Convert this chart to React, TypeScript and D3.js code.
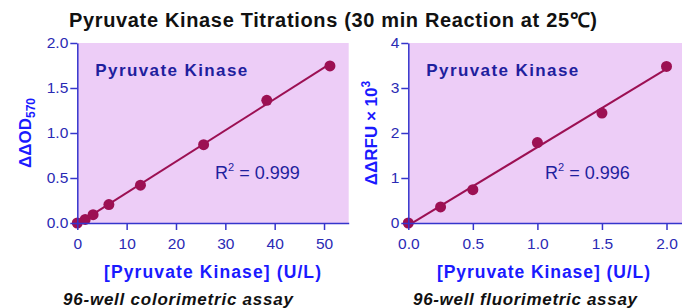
import React, { useEffect, useRef } from "react";
import * as d3 from "d3";

// colorimetric assay (left panel)
const colorConc = [0, 1.6, 3.2, 6.4, 12.8, 25.6, 38.4, 51.2];
const colorOD = [0.0, 0.04, 0.093, 0.205, 0.42, 0.87, 1.363, 1.745];
const colorXTicks = [0, 10, 20, 30, 40, 50];
const colorYTicks = [0, 0.5, 1.0, 1.5, 2.0];

// fluorimetric assay (right panel)
const fluorConc = [0, 0.25, 0.5, 1.0, 1.5, 2.0];
const fluorRFU = [0.0, 0.356, 0.74, 1.787, 2.444, 3.48];
const fluorXTicks = [0, 0.5, 1.0, 1.5, 2.0];
const fluorYTicks = [0, 1, 2, 3, 4];

const W = 682;
const H = 308;
const FONT = "'Liberation Sans', Arial, Helvetica, sans-serif";
const BG = "#edcdf7";
const AXIS = "#3535cc";
const TICK_TEXT = "#2a2ab4";
const TITLE_BLUE = "#1a1aff";
const LABEL_BLUE = "#1f1f9e";
const MARK = "#9c1053";

function fit(xs: number[], ys: number[]) {
  const mx = d3.mean(xs)!;
  const my = d3.mean(ys)!;
  let sxy = 0;
  let sxx = 0;
  xs.forEach((x, i) => {
    sxy += (x - mx) * (ys[i] - my);
    sxx += (x - mx) * (x - mx);
  });
  const slope = sxy / sxx;
  return { slope, intercept: my - slope * mx };
}

export default function App() {
  const ref = useRef<SVGSVGElement>(null);

  useEffect(() => {
    const svg = d3.select(ref.current).attr("width", W).attr("height", H);
    svg.selectAll("*").remove();

    const panels = [
      {
        xs: colorConc,
        ys: colorOD,
        x: d3.scaleLinear().domain([0, 55]).range([77.3, 348.7]),
        y: d3.scaleLinear().domain([0, 2]).range([223, 43]),
        xTicks: colorXTicks,
        yTicks: colorYTicks,
        xFmt: d3.format("d"),
        yFmt: d3.format(".1f"),
        r2: "0.999",
        r2x: 215,
        yTitle: ["ΔΔOD", "570", "sub"],
        yTitleX: 31,
        xTitle: [104, 217],
        caption: ["96-well colorimetric assay", 63, 230],
      },
      {
        xs: fluorConc,
        ys: fluorRFU,
        x: d3.scaleLinear().domain([0, 2.12]).range([408.3, 682]),
        y: d3.scaleLinear().domain([0, 4]).range([223, 43]),
        xTicks: fluorXTicks,
        yTicks: fluorYTicks,
        xFmt: d3.format(".1f"),
        yFmt: d3.format("d"),
        r2: "0.996",
        r2x: 545,
        yTitle: ["ΔΔRFU × 10", "3", "sup"],
        yTitleX: 377,
        xTitle: [437, 213],
        caption: ["96-well fluorimetric assay", 413, 224],
      },
    ];

    panels.forEach((p) => {
      const [x0, x1] = p.x.range();
      const [y0, y1] = p.y.range();

      // plot background
      svg
        .append("rect")
        .attr("x", x0)
        .attr("y", y1)
        .attr("width", x1 - x0)
        .attr("height", y0 - y1)
        .attr("fill", BG);

      // fit line
      const f = fit(p.xs, p.ys);
      const xMax = d3.max(p.xs)!;
      svg
        .append("line")
        .attr("x1", p.x(0))
        .attr("y1", p.y(f.intercept))
        .attr("x2", p.x(xMax))
        .attr("y2", p.y(f.intercept + f.slope * xMax))
        .attr("stroke", MARK)
        .attr("stroke-width", 2);

      // points
      svg
        .append("g")
        .selectAll("circle")
        .data(p.xs)
        .join("circle")
        .attr("cx", (d) => p.x(d))
        .attr("cy", (d, i) => p.y(p.ys[i]))
        .attr("r", 5.5)
        .attr("fill", MARK);

      // axes
      const xAxis = svg
        .append("g")
        .attr("transform", `translate(0,${y0})`)
        .call(
          d3
            .axisBottom(p.x)
            .tickValues(p.xTicks)
            .tickFormat((d) => p.xFmt(d as number))
            .tickSize(7)
            .tickSizeOuter(0)
            .tickPadding(8)
        );
      const yAxis = svg
        .append("g")
        .attr("transform", `translate(${x0},0)`)
        .call(
          d3
            .axisLeft(p.y)
            .tickValues(p.yTicks)
            .tickFormat((d) => p.yFmt(d as number))
            .tickSize(7)
            .tickSizeOuter(0)
            .tickPadding(2)
        );
      [xAxis, yAxis].forEach((a) => {
        a.selectAll("path,line").attr("stroke", AXIS).attr("stroke-width", 1.5);
        a.selectAll("text")
          .attr("fill", TICK_TEXT)
          .attr("font-family", FONT)
          .attr("font-size", 15.5);
      });

      // in-plot label
      svg
        .append("text")
        .attr("x", x0 + 18)
        .attr("y", 76)
        .attr("font-family", FONT)
        .attr("font-size", 17)
        .attr("font-weight", 700)
        .attr("textLength", 152)
        .attr("lengthAdjust", "spacing")
        .attr("fill", LABEL_BLUE)
        .text("Pyruvate Kinase");

      // R squared
      const r2 = svg
        .append("text")
        .attr("x", p.r2x)
        .attr("y", 179)
        .attr("font-family", FONT)
        .attr("font-size", 18)
        .attr("fill", LABEL_BLUE);
      r2.append("tspan").text("R");
      r2.append("tspan").attr("font-size", 11).attr("dy", -8).text("2");
      r2.append("tspan").attr("dy", 8).text(" = " + p.r2);

      // y title
      const yt = svg
        .append("text")
        .attr("transform", `translate(${p.yTitleX},133) rotate(-90)`)
        .attr("text-anchor", "middle")
        .attr("font-family", FONT)
        .attr("font-size", 17)
        .attr("font-weight", 700)
        .attr("fill", TITLE_BLUE);
      yt.append("tspan").text(p.yTitle[0]);
      yt.append("tspan")
        .attr("font-size", 12)
        .attr("dy", p.yTitle[2] === "sub" ? 4 : -7)
        .text(p.yTitle[1]);

      // x title
      svg
        .append("text")
        .attr("x", p.xTitle[0])
        .attr("y", 278)
        .attr("font-family", FONT)
        .attr("font-size", 17.5)
        .attr("font-weight", 700)
        .attr("textLength", p.xTitle[1])
        .attr("lengthAdjust", "spacing")
        .attr("fill", TITLE_BLUE)
        .text("[Pyruvate Kinase] (U/L)");

      // caption
      svg
        .append("text")
        .attr("x", p.caption[1])
        .attr("y", 305)
        .attr("font-family", FONT)
        .attr("font-size", 17)
        .attr("font-weight", 700)
        .attr("font-style", "italic")
        .attr("textLength", p.caption[2])
        .attr("lengthAdjust", "spacing")
        .attr("fill", "#111")
        .text(p.caption[0] as string);
    });

    // title
    svg
      .append("text")
      .attr("x", 69)
      .attr("y", 27)
      .attr("font-family", FONT)
      .attr("font-size", 20)
      .attr("font-weight", 700)
      .attr("textLength", 528)
      .attr("lengthAdjust", "spacing")
      .attr("fill", "#111")
      .text("Pyruvate Kinase Titrations (30 min Reaction at 25℃)");
  }, []);

  return (
    <svg
      ref={ref}
      style={{ position: "absolute", left: 0, top: 0, background: "#fff" }}
    />
  );
}
